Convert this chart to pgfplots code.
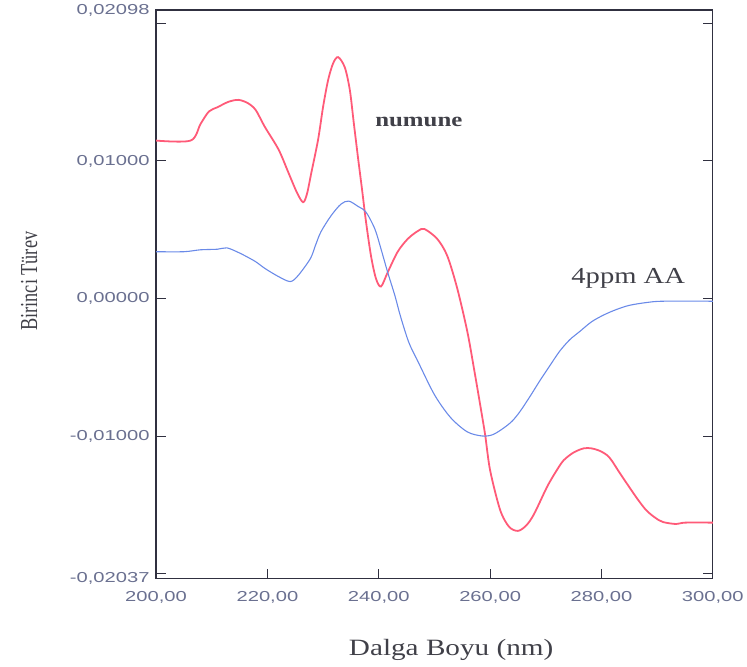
\documentclass[border=0pt]{standalone}
\usepackage{pgfplots}
\pgfplotsset{compat=1.18}
\usepackage{fontspec}
\setmainfont{Liberation Serif}
\newfontfamily\ticksans[FakeStretch=1.4]{Liberation Sans}
\newfontfamily\wideserif[FakeStretch=1.25]{Liberation Serif}
\newfontfamily\narrowserif[FakeStretch=0.75]{Liberation Serif}
\definecolor{redc}{HTML}{FF5A78}
\definecolor{bluec}{HTML}{6A8AE8}
\definecolor{tickc}{HTML}{6A7090}
\definecolor{axisc}{HTML}{303040}
\definecolor{txtc}{HTML}{404048}
\begin{document}
\begin{tikzpicture}
\begin{axis}[
  width=560pt, height=572pt, scale only axis,
  xmin=200, xmax=300, ymin=-0.02037, ymax=0.02098,
  xtick={200,220,240,260,280,300},
  xticklabels={{200,00},{220,00},{240,00},{260,00},{280,00},{300,00}},
  ytick={-0.02037,-0.02,-0.01,0,0.01,0.02,0.02098},
  yticklabels={{-0,02037},{},{-0,01000},{0,00000},{0,01000},{},{0,02098}},
  scaled y ticks=false,
  tick align=inside, xtick pos=bottom, ytick pos=both, yticklabel pos=left,
  major tick length=10pt,
  tick style={axisc, line width=1pt},
  axis line style={axisc, line width=1.2pt},
  tick label style={font=\ticksans\fontsize{14.5}{14.5}\selectfont, text=tickc},
  xticklabel style={yshift=-9pt},
  yticklabel style={xshift=-3pt},
  xlabel={Dalga Boyu (nm)},
  ylabel={Birinci Türev},
  xlabel style={at={(axis description cs:0.53,-0.125)}, anchor=center, font=\wideserif\fontsize{23.5}{23.5}\selectfont, text=txtc},
  ylabel style={at={(axis description cs:-0.228,0.523)}, anchor=center, font=\narrowserif\fontsize{24.5}{24.5}\selectfont, text=txtc},
]
\addplot[redc, line width=1.8pt, smooth, tension=0.5] coordinates {
(200,0.01148)(206.2,0.01148)(208,0.0127)(209.5,0.0136)(211,0.0139)(213,0.0143)(214.8,0.01444)(216.5,0.0142)(217.9,0.0137)(219.5,0.0125)(222,0.01083)(223.75,0.00917)(225.3,0.0077)(226.4,0.0070)(227.1,0.0076)(227.9,0.00917)(229.1,0.01155)(230,0.01394)(230.9,0.01588)(231.8,0.0171)(232.7,0.01755)(233.9,0.0168)(234.8,0.01516)(235.5,0.0128)(236.25,0.0103)(237,0.0079)(237.7,0.0056)(238.6,0.0031)(239.5,0.00144)(240.4,0.00087)(241.6,0.0019)(243.4,0.0034)(245.2,0.00433)(247,0.0049)(248.2,0.00505)(250.5,0.00433)(252.3,0.0031)(254.1,0.00072)(255.9,-0.0024)(257.1,-0.0051)(258.2,-0.0077)(259.1,-0.0099)(260,-0.0125)(261.8,-0.01538)(263.4,-0.0166)(265,-0.0169)(266.5,-0.0165)(267.9,-0.01567)(270.2,-0.01372)(271.8,-0.0126)(273.2,-0.01177)(275,-0.0112)(276.8,-0.0109)(278.2,-0.0109)(279.8,-0.0111)(281.4,-0.01155)(283.3,-0.0127)(285,-0.01372)(286.5,-0.0146)(288,-0.01538)(289.5,-0.0159)(291,-0.01625)(293.4,-0.0164)(295,-0.0163)(300,-0.0163)
};
\addplot[bluec, line width=1.1pt, smooth, tension=0.5] coordinates {
(200,0.0034)(205,0.0034)(208,0.00354)(211,0.00358)(212.7,0.00368)(214.5,0.0034)(216,0.0031)(217.9,0.00267)(219.6,0.00217)(222,0.00159)(224.1,0.00123)(225.5,0.00166)(227.7,0.00289)(228.6,0.00383)(229.6,0.00484)(231.4,0.006)(233.2,0.00686)(234.6,0.00708)(236.25,0.0067)(237.7,0.00628)(239.3,0.00505)(240.4,0.0036)(241.6,0.0019)(242.9,0.0002)(243.9,-0.0013)(245.4,-0.0032)(247,-0.00455)(250,-0.007)(252.9,-0.00866)(255.9,-0.0097)(258.6,-0.0100)(260.5,-0.0099)(262.5,-0.0094)(264,-0.0089)(265.4,-0.0082)(267.2,-0.0071)(268.9,-0.0060)(270.7,-0.0049)(272.5,-0.00383)(274.3,-0.0030)(276.1,-0.0024)(278.2,-0.0017)(280.4,-0.0012)(282.7,-0.0008)(285,-0.0005)(288,-0.0003)(291,-0.0002)(300,-0.0002)
};
\node[font=\wideserif\fontsize{20}{20}\selectfont\bfseries, text=txtc] at (axis cs:247.2,0.01285) {numune};
\node[font=\wideserif\fontsize{23}{23}\selectfont, text=txtc] at (axis cs:284.8,0.00144) {4ppm AA};
\end{axis}
\path ([xshift=-157pt,yshift=-88pt]current axis.south west) rectangle ([xshift=30pt,yshift=10pt]current axis.north east);
\end{tikzpicture}
\end{document}
